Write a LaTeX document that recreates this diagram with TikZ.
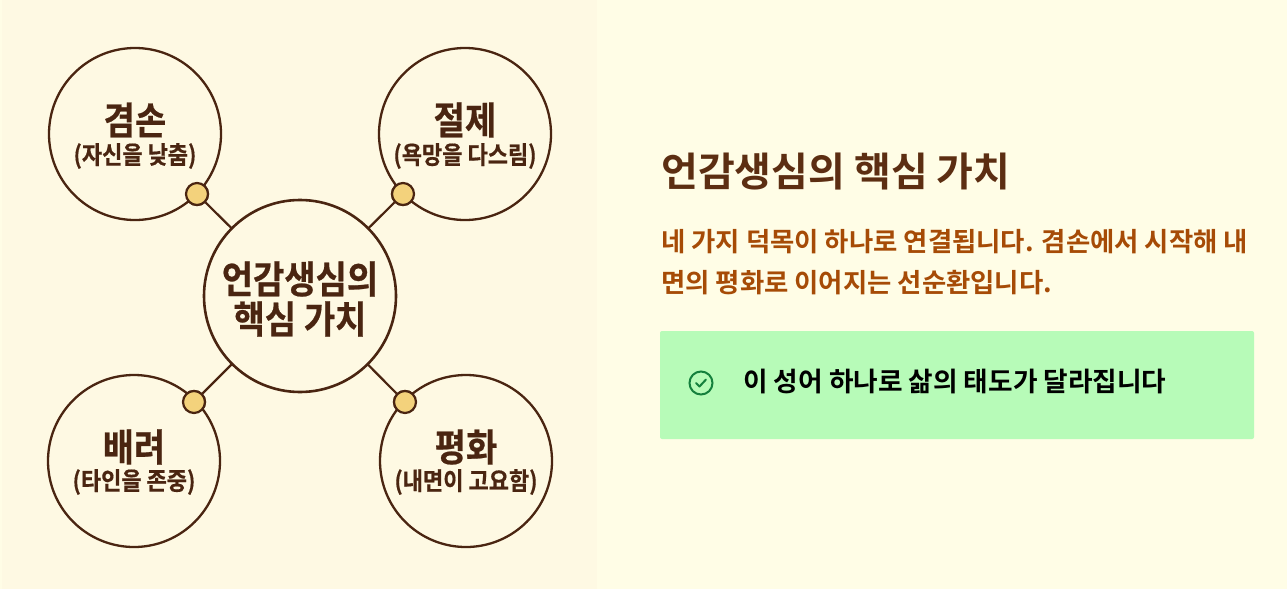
\documentclass[tikz,border=0pt]{standalone}
\usepackage{fontspec}
\usetikzlibrary{calc}
\setmainfont{Noto Sans CJK KR}[BoldFont={Noto Sans CJK KR Bold}]
\newfontfamily\krbold{Noto Sans CJK KR Bold}
\newfontfamily\krheavy{Noto Sans CJK KR Bold}[FakeBold=0.6]
\newcommand{\tallbox}[1]{\scalebox{1}[1.12]{#1}}
\definecolor{panelbg}{HTML}{FFFDE6}
\definecolor{leftbg}{HTML}{FEF9E3}
\definecolor{ink}{HTML}{4A2511}
\definecolor{dotfill}{HTML}{F3D27C}
\definecolor{titlec}{HTML}{5C2E12}
\definecolor{bodyc}{HTML}{A64B06}
\definecolor{boxc}{HTML}{B7FBB8}
\definecolor{okc}{HTML}{15803D}
\tikzset{
  virtue/.style={circle,draw=ink,line width=2.3pt,fill=leftbg,minimum size=172pt,inner sep=0pt,align=center,text=ink},
  hub/.style={circle,draw=ink,line width=2.6pt,fill=leftbg,minimum size=192pt,inner sep=0pt,align=center,text=ink},
  knob/.style={circle,draw=ink,line width=2.2pt,fill=dotfill,minimum size=22pt,inner sep=0pt},
  link/.style={draw=ink,line width=2.2pt},
  big/.style={font=\krheavy\fontsize{34}{38}\selectfont,text=ink,inner sep=0pt},
  small/.style={font=\krheavy\fontsize{22}{26}\selectfont,text=ink,inner sep=0pt},
  txt/.style={anchor=base west,inner sep=0pt}
}
\begin{document}
\begin{tikzpicture}[x=1pt,y=-1pt]
\useasboundingbox (0,0) rectangle (1287,589);
\fill[panelbg] (0,0) rectangle (1287,589);
\fill[leftbg] (2,0) rectangle (597,589);
\coordinate (hubc) at (300,296);
\node[knob] (k1) at (197,194) {};
\node[knob] (k2) at (403,194) {};
\node[knob] (k3) at (194,402) {};
\node[knob] (k4) at (405,402) {};
\draw[link] (hubc) -- (k1);
\draw[link] (hubc) -- (k2);
\draw[link] (hubc) -- (k3);
\draw[link] (hubc) -- (k4);
\node[virtue] (a) at (135,134) {};
\node[virtue] (b) at (465,134) {};
\node[virtue] (c) at (134,461) {};
\node[virtue] (d) at (466,461) {};
\node[knob] at (k1) {};
\node[knob] at (k2) {};
\node[knob] at (k3) {};
\node[knob] at (k4) {};
\node[hub] (h) at (hubc) {};
\node[big] (t1) at (135,120) {\tallbox{겸손}};
\node[small] (s1) at (135,156) {\tallbox{(자신을 낮춤)}};
\node[big] (t2) at (465,120) {\tallbox{절제}};
\node[small] (s2) at (465,156) {\tallbox{(욕망을 다스림)}};
\node[big] (t3) at (134,447) {\tallbox{배려}};
\node[small] (s3) at (134,482) {\tallbox{(타인을 존중)}};
\node[big] (t4) at (466,447) {\tallbox{평화}};
\node[small] (s4) at (466,482) {\tallbox{(내면이 고요함)}};
\node[big] (h1) at (300,279) {\tallbox{언감생심의}};
\node[big] (h2) at (300,319) {\tallbox{핵심 가치}};
\node[txt,text=titlec,font=\krbold\fontsize{40}{44}\selectfont] (title) at (661,186) {언감생심의 핵심 가치};
\node[txt,text=bodyc,font=\krbold\fontsize{26.4}{30}\selectfont] (p1) at (661,251) {네 가지 덕목이 하나로 연결됩니다. 겸손에서 시작해 내};
\node[txt,text=bodyc,font=\krbold\fontsize{26.4}{30}\selectfont] (p2) at (661,292) {면의 평화로 이어지는 선순환입니다.};
\fill[boxc,rounded corners=2pt] (660,331) rectangle (1254,439);
\node[circle,draw=okc,line width=2pt,minimum size=23pt,inner sep=0pt] (ok) at (701,383) {};
\draw[okc,line width=2pt,line cap=round,line join=round] ($(ok)+(-5,0)$) -- ($(ok)+(-1.5,3.5)$) -- ($(ok)+(5,-3.5)$);
\node[txt,text=black,font=\krbold\fontsize{26.7}{30}\selectfont] (note) at (743,391) {이 성어 하나로 삶의 태도가 달라집니다};
\end{tikzpicture}
\end{document}
